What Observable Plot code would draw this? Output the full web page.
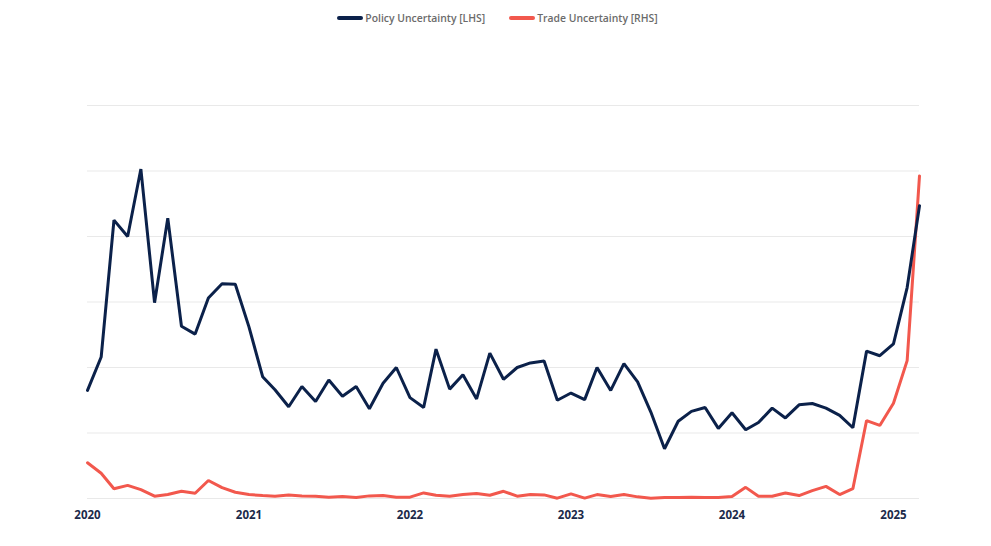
<!DOCTYPE html>
<html>
<head>
<meta charset="utf-8">
<script src="https://cdn.jsdelivr.net/npm/d3@7"></script>
<script src="https://cdn.jsdelivr.net/npm/@observablehq/plot@0.6"></script>
<style>
  html, body { margin: 0; padding: 0; background: #fff; }
  body { width: 991px; height: 546px; overflow: hidden; font-family: "Open Sans", sans-serif; }
  #legend { height: 36px; display: flex; justify-content: center; align-items: center; gap: 24px; font-size: 10.4px; font-weight: 600; color: #6b6b6b; padding-left: 4px; box-sizing: border-box; }
  .item { display: flex; align-items: center; }
  .sw { width: 26px; height: 4px; border-radius: 2px; margin-right: 2px; }
</style>
</head>
<body>
<div id="legend"></div>
<div id="chart"></div>
<script>
// Monthly series, Jan 2020 – Mar 2025
const startMonth = "2020-01-01";
const seriesNames = ["Policy Uncertainty [LHS]", "Trade Uncertainty [RHS]"];
const seriesColors = ["#0b214a", "#f2584d"];

// Policy uncertainty (left-hand scale)
const policy = [
  165, 216, 425, 400, 503, 299, 428, 263, 251, 306, 328, 327,
  262, 186, 166, 140, 171, 148, 181, 156, 171, 137, 176, 200,
  154, 139, 228, 167, 189, 152, 222, 182, 200, 207, 210, 150,
  161, 151, 200, 165, 206, 178, 132, 76, 118, 133, 139, 107,
  131, 105, 116, 138, 123, 143, 145, 138, 127, 108, 225, 218,
  236, 322, 447
];

// Trade uncertainty (right-hand scale, twice the left scale)
const trade = [
  109, 77, 30, 40, 27, 7, 12, 22, 16, 55, 33, 19,
  12, 9, 7, 11, 8, 7, 4, 6, 3, 8, 9, 4,
  4, 17, 10, 7, 12, 15, 10, 22, 7, 12, 11, 1,
  14, 1, 12, 6, 12, 5, 1, 3, 3, 4, 3, 3,
  6, 34, 7, 7, 17, 9, 24, 37, 12, 30, 238, 223,
  291, 421, 985
];
const rhsRatio = 2; // RHS units per LHS unit
const yGrid = [0, 100, 200, 300, 400, 500, 600];
const xTickYears = [2020, 2021, 2022, 2023, 2024, 2025];

const start = new Date(startMonth);
const rows = policy.map((p, i) => ({
  date: d3.utcMonth.offset(start, i),
  policy: p,
  trade: trade[i] / rhsRatio
}));

// legend
const legend = document.getElementById("legend");
seriesNames.forEach((n, i) => {
  const it = document.createElement("div");
  it.className = "item";
  it.innerHTML = `<span class="sw" style="background:${seriesColors[i]}"></span><span>${n}</span>`;
  legend.appendChild(it);
});

const chart = Plot.plot({
  width: 991,
  height: 510,
  marginLeft: 87,
  marginRight: 72,
  marginTop: 69,
  marginBottom: 48,
  style: { fontFamily: "Open Sans, sans-serif", background: "#fff" },
  x: { type: "utc", domain: [rows[0].date, rows[rows.length - 1].date] },
  y: { domain: [0, 600], axis: null },
  marks: [
    Plot.ruleY(yGrid, { stroke: "#e9e9e9", strokeWidth: 1 }),
    Plot.axisX({
      ticks: xTickYears.map(y => new Date(Date.UTC(y, 0, 1))),
      tickFormat: d => String(d.getUTCFullYear()),
      tickSize: 0,
      tickPadding: 12,
      fontSize: 11.5,
      fontWeight: 700,
      fill: "#1b2a4a",
      label: null
    }),
    Plot.line(rows, { x: "date", y: "trade", stroke: seriesColors[1], strokeWidth: 3, strokeLinejoin: "miter" }),
    Plot.line(rows, { x: "date", y: "policy", stroke: seriesColors[0], strokeWidth: 3, strokeLinejoin: "miter" })
  ]
});
document.getElementById("chart").appendChild(chart);
</script>
</body>
</html>
